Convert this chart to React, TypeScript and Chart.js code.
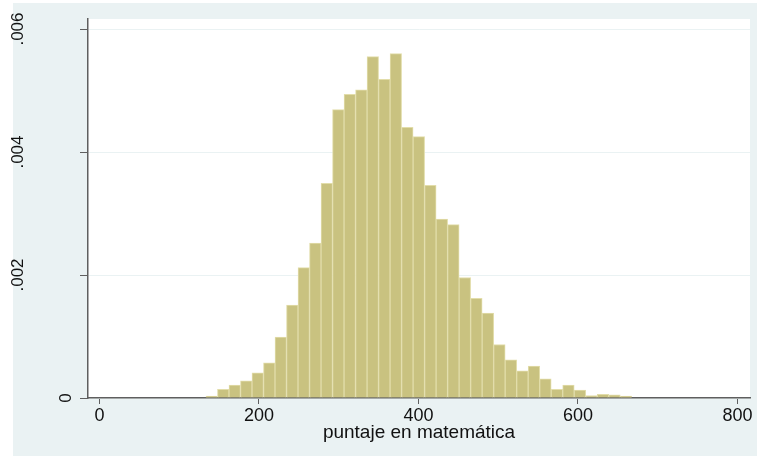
import { useEffect, useRef } from "react";
import { Chart, registerables } from "chart.js";

Chart.register(...registerables);

// Histogram definition
const binStart = 133.5;
const binWidth = 14.43;
const densities = [
  0.00003, 0.00014, 0.00021, 0.00028, 0.00041, 0.00057, 0.00099, 0.00151,
  0.00212, 0.00252, 0.00349, 0.00469, 0.00494, 0.00501, 0.00555, 0.00518,
  0.0056, 0.0044, 0.00425, 0.00346, 0.00291, 0.00282, 0.00196, 0.00162,
  0.00138, 0.00087, 0.00062, 0.00044, 0.00052, 0.00031, 0.00014, 0.00021,
  0.00013, 0.00004, 0.00006, 0.00005, 0.00003,
];
const xTicks = [0, 200, 400, 600, 800];
const yTicks = [0, 0.002, 0.004, 0.006];
const yTickLabels = ["0", ".002", ".004", ".006"];
const xTitle = "puntaje en matemática";

const FONT = "'Liberation Sans', Arial, sans-serif";
const BG = "#EAF2F3";
const AXIS = "#5f5f5f";

const bgPlugin = {
  id: "stataBg",
  beforeDraw(chart: any) {
    const { ctx, chartArea } = chart;
    ctx.save();
    ctx.fillStyle = "#ffffff";
    ctx.fillRect(0, 0, chart.width, chart.height);
    ctx.fillStyle = BG;
    ctx.fillRect(13, 3, 744, 453);
    ctx.fillStyle = "#ffffff";
    ctx.fillRect(chartArea.left, chartArea.top, chartArea.right - chartArea.left, chartArea.bottom - chartArea.top);
    ctx.restore();
  },
};

const yLabelPlugin = {
  id: "yRotLabels",
  afterDraw(chart: any) {
    const s = chart.scales.y;
    const { ctx, chartArea } = chart;
    ctx.save();
    ctx.font = `17px ${FONT}`;
    ctx.fillStyle = "#111111";
    ctx.textAlign = "center";
    ctx.textBaseline = "middle";
    s.ticks.forEach((t: any, i: number) => {
      const label = yTickLabels[yTicks.indexOf(t.value)] ?? String(t.value);
      const y = s.getPixelForValue(t.value);
      const w = ctx.measureText(label).width;
      const cx = chartArea.left - 2.6 - 2.04 * w;
      ctx.save();
      ctx.translate(cx, y);
      ctx.rotate(-Math.PI / 2);
      ctx.fillText(label, 0, 0);
      ctx.restore();
    });
    ctx.restore();
  },
};

export default function App() {
  const ref = useRef<HTMLCanvasElement | null>(null);

  useEffect(() => {
    if (!ref.current) return;
    const data = densities.map((d, i) => ({ x: binStart + binWidth * (i + 0.5), y: d }));
    const chart = new Chart(ref.current, {
      type: "bar",
      data: {
        datasets: [
          {
            data,
            backgroundColor: "rgb(201,194,128)",
            borderColor: "rgb(226,221,170)",
            borderWidth: 1,
            barPercentage: 1,
            categoryPercentage: 1,
          },
        ],
      },
      plugins: [bgPlugin, yLabelPlugin],
      options: {
        responsive: false,
        animation: false,
        devicePixelRatio: 1,
        layout: { padding: { left: 0, top: 19, right: 8, bottom: 0 } },
        plugins: { legend: { display: false }, tooltip: { enabled: false } },
        scales: {
          x: {
            type: "linear",
            offset: false,
            min: -14.42,
            max: 815.7,
            afterBuildTicks: (s: any) => {
              s.ticks = xTicks.map((v) => ({ value: v }));
            },
            afterFit: (s: any) => {
              s.height = 59;
            },
            grid: {
              offset: false,
              drawOnChartArea: false,
              drawTicks: true,
              tickLength: 6,
              tickColor: AXIS,
              tickWidth: 1,
            },
            border: { display: true, color: AXIS, width: 1.5 },
            ticks: {
              font: { family: FONT, size: 18 },
              color: "#111111",
              padding: 1,
              maxRotation: 0,
              minRotation: 0,
            },
            title: {
              display: true,
              text: xTitle,
              font: { family: FONT, size: 19 },
              color: "#111111",
              padding: { top: 0, bottom: 13 },
            },
          },
          y: {
            type: "linear",
            min: 0,
            max: 0.006163,
            afterBuildTicks: (s: any) => {
              s.ticks = yTicks.map((v) => ({ value: v }));
            },
            afterFit: (s: any) => {
              s.width = 88;
            },
            grid: {
              color: BG,
              lineWidth: 1,
              drawTicks: true,
              tickLength: 8,
              tickColor: AXIS,
              tickWidth: 1,
            },
            border: { display: true, color: AXIS, width: 1.5 },
            ticks: {
              color: "rgba(0,0,0,0)",
              font: { family: FONT, size: 17 },
            },
          },
        },
      },
    } as any);
    return () => chart.destroy();
  }, []);

  return (
    <div style={{ position: "fixed", left: 0, top: 0, width: 758, height: 457 }}>
      <canvas ref={ref} width={758} height={457} style={{ display: "block", width: 758, height: 457 }} />
    </div>
  );
}
